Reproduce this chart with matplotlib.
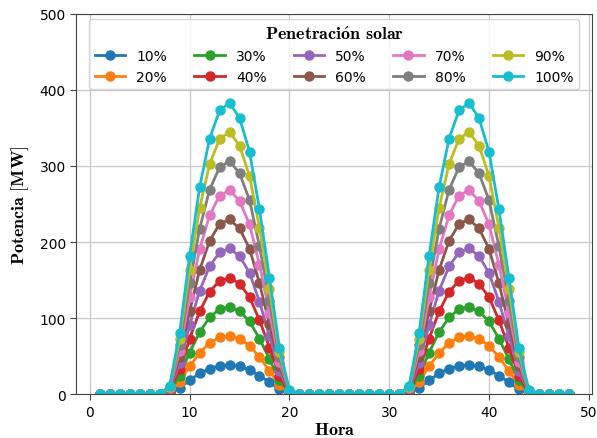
import numpy as np
import matplotlib
matplotlib.use("Agg")
import matplotlib.pyplot as plt

plt.rcParams['mathtext.fontset'] = 'cm'

# Horas del dia (dos dias)
hours = list(range(1, 49))
labels = ['10%', '20%', '30%', '40%', '50%', '60%', '70%', '80%', '90%', '100%']

# potencia por hora 8..20 de cada dia, el resto es cero
p10 = [1.1, 8.1, 18.2, 27.2, 33.6, 37.3, 38.3, 36.3, 31.9, 24.3, 15.3, 6.1, 0.5]
p20 = [2.2, 16.2, 36.4, 54.4, 67.2, 74.6, 76.6, 72.6, 63.8, 48.6, 30.6, 12.2, 1.0]
p30 = [3.3, 24.3, 54.6, 81.6, 100.8, 111.9, 114.9, 108.9, 95.7, 72.9, 45.9, 18.3, 1.5]
p40 = [4.4, 32.4, 72.8, 108.8, 134.4, 149.2, 153.2, 145.2, 127.6, 97.2, 61.2, 24.4, 2.0]
p50 = [5.5, 40.5, 91.0, 136.0, 168.0, 186.5, 191.5, 181.5, 159.5, 121.5, 76.5, 30.5, 2.5]
p60 = [6.6, 48.6, 109.2, 163.2, 201.6, 223.8, 229.8, 217.8, 191.4, 145.8, 91.8, 36.6, 3.0]
p70 = [7.7, 56.7, 127.4, 190.4, 235.2, 261.1, 268.1, 254.1, 223.3, 170.1, 107.1, 42.7, 3.5]
p80 = [8.8, 64.8, 145.6, 217.6, 268.8, 298.4, 306.4, 290.4, 255.2, 194.4, 122.4, 48.8, 4.0]
p90 = [9.9, 72.9, 163.8, 244.8, 302.4, 335.7, 344.7, 326.7, 287.1, 218.7, 137.7, 54.9, 4.5]
p100 = [11, 81, 182, 272, 336, 373, 383, 363, 319, 243, 153, 61, 5]

series = [p10, p20, p30, p40, p50, p60, p70, p80, p90, p100]


def two_days(vals):
    day = [0] * 7 + vals + [0] * 4
    return day + day


fig = plt.figure(figsize=(5.97, 4.39), dpi=100)
ax = fig.add_axes([0.128, 0.100, 0.864, 0.866])

for lab, vals in zip(labels, series):
    ax.plot(hours, two_days(vals), '-o', lw=2, ms=6.5, label=lab)

ax.set_ylim(0, 500)
ax.set_xticks([0, 10, 20, 30, 40, 50])
ax.grid(True, color='#c8c8c8', lw=0.9)
ax.set_axisbelow(True)
for s in ax.spines.values():
    s.set_color('#444444')
ax.tick_params(direction='out', length=4, color='#444444', labelsize=10)

ax.set_xlabel(r'$\mathbf{Hora}$', fontsize=13, labelpad=1)
ax.set_ylabel(r'$\mathbf{Potencia\ [MW]}$', fontsize=13, labelpad=6)

leg = ax.legend(ncol=5, loc='upper center', fontsize=10, frameon=True,
                title=r'$\mathbf{Penetraci\'on\ solar}$', title_fontsize=13,
                handlelength=2.2, columnspacing=1.95, borderaxespad=0.4,
                labelspacing=0.45)
leg.get_frame().set_edgecolor('#cccccc')

fig.savefig('out.png', dpi=100)
